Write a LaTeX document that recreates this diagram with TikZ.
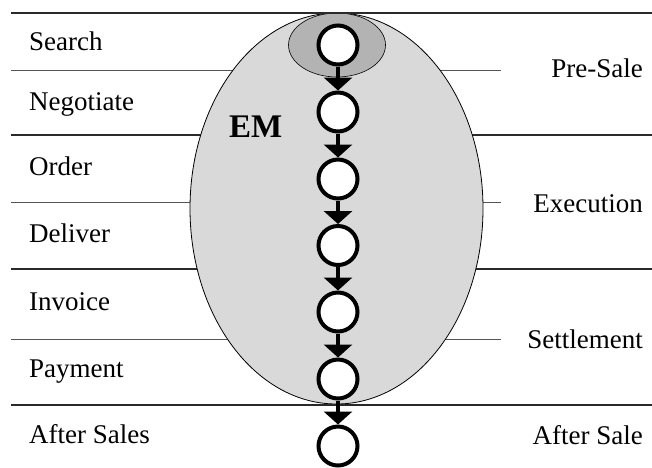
\documentclass[tikz,border=0pt]{standalone}
\usepackage{fontspec}
\setmainfont{Liberation Serif}
\usetikzlibrary{arrows.meta}
\definecolor{bigfill}{HTML}{D9D9D9}
\definecolor{smallfill}{HTML}{B3B3B3}
\definecolor{thickline}{HTML}{2A2A2A}
\definecolor{thinline}{HTML}{555555}
\tikzset{
  stage/.style={circle, draw=black, fill=white, line width=4pt, minimum size=39pt, inner sep=0pt},
  flow/.style={line width=4pt, -{Triangle[width=28pt,length=13pt]}},
  thickrule/.style={draw=thickline, line width=2pt},
  thinrule/.style={draw=thinline, line width=1pt},
  leftlab/.style={anchor=base west, inner sep=0pt, font=\fontsize{27}{32}\selectfont},
  rightlab/.style={anchor=base east, inner sep=0pt, font=\fontsize{27}{32}\selectfont},
}
\begin{document}
\begin{tikzpicture}[x=1pt,y=-1pt]
\useasboundingbox (0,0) rectangle (652,467);
% horizontal rules behind the ellipse
\draw[thinrule] (11,70) -- (501,70);
\draw[thinrule] (11,202) -- (501,202);
\draw[thinrule] (11,339) -- (501,339);
\draw[thickrule] (11,135) -- (652,135);
\draw[thickrule] (11,269) -- (652,269);
% ellipses
\draw[fill=bigfill, line width=0.8pt] (336.5,208.5) ellipse [x radius=146.5, y radius=195.5];
\draw[fill=smallfill, line width=0.6pt] (337,45) ellipse [x radius=48.5, y radius=32];
% top and bottom rules
\draw[thickrule] (11,13) -- (652,13);
\draw[thickrule] (11,404.5) -- (652,404.5);
% circles
\foreach \i/\y in {1/45,2/112,3/179,4/245.5,5/312,6/379,7/446}{
  \node[stage] (c\i) at (338,\y) {};
}
\foreach \a/\b in {1/2,2/3,3/4,4/5,5/6,6/7}{
  \draw[flow] (c\a.south) -- (c\b.north);
}
% labels
\node[anchor=base west, inner sep=0pt, font=\fontsize{33}{38}\selectfont\bfseries] (em) at (229,137) {EM};
\node[leftlab] (l1) at (29,50) {Search};
\node[leftlab] (l2) at (29,110.5) {Negotiate};
\node[leftlab] (l3) at (29,175) {Order};
\node[leftlab] (l4) at (29,242) {Deliver};
\node[leftlab] (l5) at (29,310) {Invoice};
\node[leftlab] (l6) at (29,377) {Payment};
\node[leftlab] (l7) at (29,443) {After Sales};
\node[rightlab] (r1) at (643,77) {Pre-Sale};
\node[rightlab] (r2) at (643,212) {Execution};
\node[rightlab] (r3) at (643,348) {Settlement};
\node[rightlab] (r4) at (643,444) {After Sale};
\end{tikzpicture}
\end{document}
